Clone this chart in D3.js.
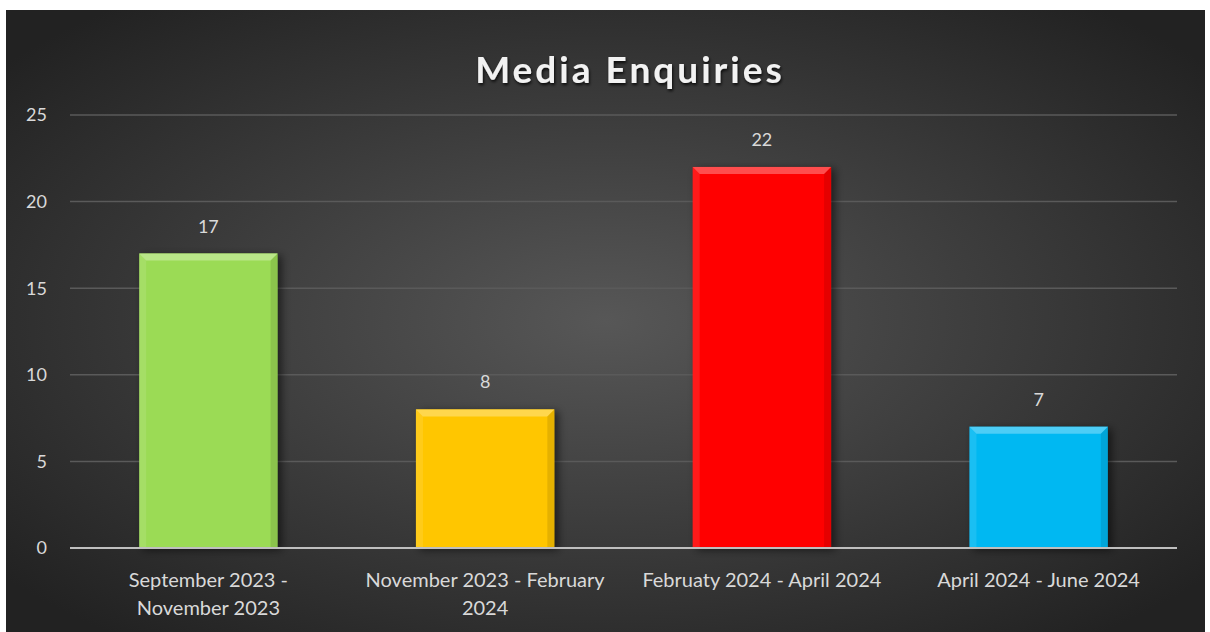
<!DOCTYPE html>
<html>
<head>
<meta charset="utf-8">
<script src="https://cdn.jsdelivr.net/npm/d3@7"></script>
<style>
body { margin: 0; background: #ffffff; }
text { font-family: "Lato", "Open Sans", sans-serif; }
</style>
</head>
<body>
<div id="chart"></div>
<script>
var categories = ["September 2023 - November 2023", "November 2023 - February 2024", "Februaty 2024 - April 2024", "April 2024 - June 2024"];
var values = [17, 8, 22, 7];
var barColors = ["#9bdb55", "#ffc600", "#ff0000", "#00b8f2"];
var yTicks = [0, 5, 10, 15, 20, 25];

var width = 1210, height = 632;
var margin = {left: 70, right: 33, top: 115, bottom: 84};

var svg = d3.select("#chart").append("svg")
    .attr("width", width)
    .attr("height", height);

var defs = svg.append("defs");
var bg = defs.append("radialGradient")
    .attr("id", "bg")
    .attr("cx", "50%").attr("cy", "50%").attr("r", "65%");
bg.append("stop").attr("offset", "0%").attr("stop-color", "#575757");
bg.append("stop").attr("offset", "100%").attr("stop-color", "#222222");

var shadow = defs.append("filter").attr("id", "shadow")
    .attr("x", "-20%").attr("y", "-20%").attr("width", "150%").attr("height", "150%");
shadow.append("feDropShadow")
    .attr("dx", 4).attr("dy", 2).attr("stdDeviation", 4)
    .attr("flood-color", "#000").attr("flood-opacity", 0.55);

var tshadow = defs.append("filter").attr("id", "tshadow");
tshadow.append("feDropShadow")
    .attr("dx", 1).attr("dy", 2).attr("stdDeviation", 1.5)
    .attr("flood-color", "#000").attr("flood-opacity", 0.8);

svg.append("rect")
    .attr("x", 6).attr("y", 10)
    .attr("width", 1199).attr("height", 622)
    .attr("fill", "url(#bg)");

var x = d3.scaleBand()
    .domain(categories)
    .range([margin.left, width - margin.right])
    .paddingInner(0.5)
    .paddingOuter(0.25);

var y = d3.scaleLinear()
    .domain([0, 25])
    .range([height - margin.bottom, margin.top]);

// gridlines
svg.append("g")
    .selectAll("line")
    .data(yTicks.filter(function(d){ return d > 0; }))
    .enter().append("line")
    .attr("x1", margin.left).attr("x2", width - margin.right)
    .attr("y1", function(d){ return y(d); })
    .attr("y2", function(d){ return y(d); })
    .attr("stroke", "#5a5a5a")
    .attr("stroke-width", 1.5);

// y labels
svg.append("g")
    .selectAll("text")
    .data(yTicks)
    .enter().append("text")
    .attr("x", 47)
    .attr("y", function(d){ return y(d); })
    .attr("dy", "0.35em")
    .attr("text-anchor", "end")
    .attr("fill", "#d9d9d9")
    .attr("font-size", 18)
    .text(function(d){ return d; });

// bars
var bars = svg.append("g")
    .selectAll("g")
    .data(values)
    .enter().append("g");

bars.append("rect")
    .attr("x", function(d, i){ return x(categories[i]); })
    .attr("y", function(d){ return y(d); })
    .attr("width", x.bandwidth())
    .attr("height", function(d){ return y(0) - y(d); })
    .attr("fill", function(d, i){ return barColors[i]; })
    .attr("filter", "url(#shadow)");

// top bevel
var bev = 7;
bars.append("path")
    .attr("d", function(d, i){
        var x0 = x(categories[i]), x1 = x0 + x.bandwidth(), y0 = y(d);
        return "M" + x0 + "," + y0 + "L" + x1 + "," + y0 + "L" + (x1 - bev) + "," + (y0 + bev) +
            "L" + (x0 + bev) + "," + (y0 + bev) + "Z";
    })
    .attr("fill", function(d, i){ return d3.interpolateRgb(barColors[i], "#fff")(0.3); });

// side bevels
bars.append("path")
    .attr("d", function(d, i){
        var x0 = x(categories[i]), y0 = y(d);
        return "M" + x0 + "," + y0 + "L" + (x0 + bev) + "," + (y0 + bev) + "L" + (x0 + bev) + "," + y(0) +
            "L" + x0 + "," + y(0) + "Z";
    })
    .attr("fill", "#fff").attr("opacity", 0.1);
bars.append("path")
    .attr("d", function(d, i){
        var x1 = x(categories[i]) + x.bandwidth(), y0 = y(d);
        return "M" + x1 + "," + y0 + "L" + (x1 - bev) + "," + (y0 + bev) + "L" + (x1 - bev) + "," + y(0) +
            "L" + x1 + "," + y(0) + "Z";
    })
    .attr("fill", "#000").attr("opacity", 0.1);

// value labels
bars.append("text")
    .attr("x", function(d, i){ return x(categories[i]) + x.bandwidth() / 2; })
    .attr("y", function(d){ return y(d) - 21; })
    .attr("text-anchor", "middle")
    .attr("fill", "#d9d9d9")
    .attr("font-size", 18)
    .text(function(d){ return d; });

// baseline
svg.append("line")
    .attr("x1", margin.left).attr("x2", width - margin.right)
    .attr("y1", y(0)).attr("y2", y(0))
    .attr("stroke", "#bfbfbf")
    .attr("stroke-width", 2);

// category labels with wrapping
var maxW = 256;
var xl = svg.append("g")
    .selectAll("text")
    .data(categories)
    .enter().append("text")
    .attr("x", function(d){ return x(d) + x.bandwidth() / 2; })
    .attr("y", y(0) + 39)
    .attr("text-anchor", "middle")
    .attr("fill", "#d9d9d9")
    .attr("font-size", 20);

xl.each(function(d){
    var t = d3.select(this);
    var words = d.split(" ");
    var line = [];
    var ts = t.append("tspan").attr("x", t.attr("x"));
    words.forEach(function(w){
        line.push(w);
        ts.text(line.join(" "));
        if (ts.node().getComputedTextLength() > maxW && line.length > 1) {
            line.pop();
            ts.text(line.join(" "));
            line = [w];
            ts = t.append("tspan").attr("x", t.attr("x")).attr("dy", 28).text(w);
        }
    });
});

// title
svg.append("text")
    .attr("x", 630)
    .attr("y", 83)
    .attr("text-anchor", "middle")
    .attr("fill", "#f2f2f2")
    .attr("font-size", 37)
    .attr("font-weight", "bold")
    .attr("letter-spacing", 3)
    .attr("filter", "url(#tshadow)")
    .text("Media Enquiries");
</script>
</body>
</html>
